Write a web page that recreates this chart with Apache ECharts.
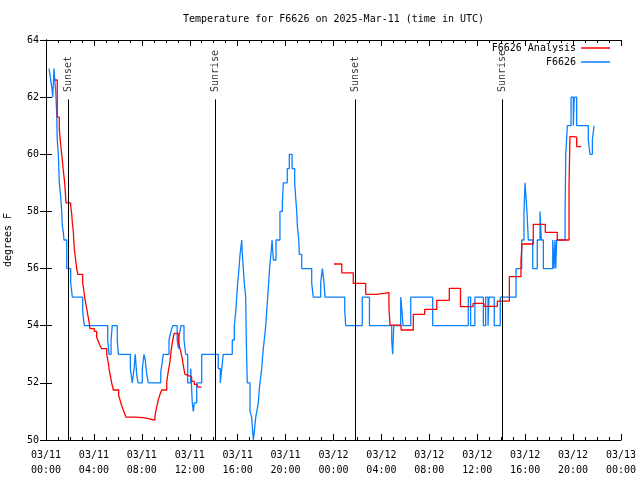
<!DOCTYPE html>
<html>
<head>
<meta charset="utf-8">
<script src="https://cdn.jsdelivr.net/npm/echarts@6/dist/echarts.min.js"></script>
<style>html,body{margin:0;padding:0;background:#fff}#c{width:640px;height:480px}</style>
</head>
<body>
<div id="c"></div>
<script>
// hours since 03/11 00:00 UTC
const xTickLabels = ['03/11\n00:00','03/11\n04:00','03/11\n08:00','03/11\n12:00','03/11\n16:00','03/11\n20:00','03/12\n00:00','03/12\n04:00','03/12\n08:00','03/12\n12:00','03/12\n16:00','03/12\n20:00','03/13\n00:00'];

const blueHours = [0.25,0.33,0.42,0.50,0.56,0.67,0.75,0.81,0.89,0.94,1.03,1.11,1.23,1.31,1.36,1.44,1.50,1.73,2.06,2.20,3.06,3.20,5.15,5.26,5.43,5.53,5.95,6.04,7.04,7.20,7.35,7.45,7.57,7.68,8.04,8.18,8.29,8.41,8.54,9.58,9.66,9.79,10.27,10.43,10.58,10.95,11.06,11.13,11.27,11.52,11.66,11.83,12.08,12.21,12.30,12.38,12.58,13.00,14.38,14.55,14.67,14.80,15.55,15.72,15.84,15.92,16.00,16.11,16.20,16.34,16.39,16.47,16.55,16.67,16.72,16.80,17.03,17.17,17.25,17.31,17.39,17.51,17.64,17.72,17.81,17.92,18.01,18.06,18.14,18.22,18.34,18.42,18.51,18.62,18.70,18.78,18.87,18.98,19.20,19.53,19.73,19.81,20.14,20.31,20.54,20.76,20.84,20.93,20.98,21.10,21.15,21.35,22.18,22.31,22.93,23.07,23.21,23.29,24.94,25.02,26.40,27.00,28.86,28.94,29.03,29.61,29.72,29.80,30.45,32.28,35.25,35.45,35.80,36.51,36.70,36.90,36.98,37.42,37.92,39.24,39.71,39.90,39.99,40.15,40.26,40.63,41.01,41.24,41.35,41.52,42.30,42.41,42.49,42.55,42.63,43.33,43.39,43.52,43.83,44.02,44.10,44.30,45.27,45.41,45.61,45.75,45.80];
const blueTemp = [63,62.8,62.5,62.3,62,63,62.5,62.2,61.5,60.5,60,59,58.5,58,57.5,57.3,57,56,55.5,55,54.5,54,53.5,53,53.5,54,53.5,53,52.5,52,52.5,53,52.3,52,52.5,53,52.8,52.3,52,52.4,52.6,53,53.5,53.8,54,53.5,53.2,53.7,54,53.5,53,52,52.5,51.3,51,51.3,52,53,52.5,52,52.5,53,53.5,54,54.5,55,55.5,56,56.5,57,56.5,56,55.5,55,53.5,52,51,50.8,50.3,50,50.3,50.8,51.1,51.3,51.8,52.2,52.5,52.8,53.2,53.5,54,54.5,55,55.7,56.2,56.5,57,56.3,57,58,58.3,59,59.5,60,59.5,59,58.5,58,57.5,57,56.5,56,55.5,55,55.5,56,55.5,55,54.5,54,55,54,53.5,53,54,55,54.5,54,55,54,55,54,55,54,55,54,55,54,55,56,57,58,59,58,57,56,57,58,57,56,57,56,57,56,57,58,60,61,62,61,62,61,60.5,60,60.5,61,61];

// null marks the gap in the analysis series
const redHours = [0.75,0.94,1.11,1.23,1.34,1.44,1.56,1.67,2.06,2.15,2.20,2.28,2.36,2.45,2.56,2.65,3.06,3.17,3.26,3.40,3.48,3.59,3.67,4.03,4.23,4.37,4.51,4.65,5.07,5.20,5.28,5.40,5.48,5.62,6.07,6.18,6.32,6.45,6.59,6.68,7.37,8.12,8.54,9.10,9.24,9.37,9.52,9.66,10.08,10.21,10.35,10.44,10.54,10.69,11.04,11.13,11.24,11.38,11.46,11.60,11.75,11.94,12.16,12.38,12.58,12.71,13.00,13.00,24.04,24.69,25.65,26.69,27.61,28.63,28.72,29.64,30.66,31.61,32.62,33.67,34.60,35.65,36.56,37.68,38.68,39.65,39.74,40.68,41.68,42.68,43.66,43.74,44.02,44.30,44.66];
const redTemp = [62.6,61.3,60.9,60.3,59.9,59.45,59.0,58.3,58.2,57.9,57.6,57.3,56.7,56.4,56.0,55.8,55.5,55.2,54.9,54.6,54.4,54.15,53.9,53.8,53.6,53.45,53.3,53.2,53.0,52.7,52.45,52.2,52.0,51.75,51.55,51.4,51.2,51.05,50.9,50.8,50.78,50.75,50.7,50.85,51.15,51.4,51.6,51.75,52.05,52.4,52.75,53.1,53.4,53.73,53.5,53.3,53.1,52.85,52.6,52.3,52.25,52.2,52.05,51.95,51.9,51.85,51.85,null,56.16,55.85,55.48,55.1,55.16,54.6,54.02,53.85,54.4,54.57,54.89,55.31,54.67,54.78,54.68,54.86,55.72,56.3,56.86,57.55,57.27,57.0,58.87,60.62,60.6,60.27,60.27];

const sunHours = [1.86, 14.11, 25.82, 38.09];
const sunLabels = ['Sunset', 'Sunrise', 'Sunset', 'Sunrise'];

const FONT = 'DejaVu Sans Mono';
const blueData = blueHours.map((h, i) => [h, blueTemp[i]]);
// split the analysis series at null gaps so no segment bridges the gap
const redSegments = [[]];
redHours.forEach((h, i) => {
  if (redTemp[i] == null) { redSegments.push([]); }
  else { redSegments[redSegments.length - 1].push([h, redTemp[i]]); }
});

const chart = echarts.init(document.getElementById('c'), null, {renderer: 'canvas'});
const axisCommon = {
  axisLine: {show: true, lineStyle: {color: '#000', width: 1}},
  splitLine: {show: false}
};
const redSeries = redSegments.map(seg => ({
  name: 'F6626 Analysis', type: 'line', step: 'end', showSymbol: false,
  data: seg, color: '#ff0000', lineStyle: {color: '#ff0000', width: 1.3}, z: 3
}));
chart.setOption({
  animation: false,
  backgroundColor: '#fff',
  textStyle: {fontFamily: FONT},
  title: {
    text: 'Temperature for F6626 on 2025-Mar-11 (time in UTC)',
    left: 183, top: 14, padding: 0,
    textStyle: {fontFamily: FONT, fontSize: 10, fontWeight: 'normal', color: '#000'}
  },
  legend: [
    {data: ['F6626 Analysis'], right: 30, top: 43, padding: 0, align: 'right', orient: 'vertical',
     icon: 'rect', itemWidth: 29, itemHeight: 1.5, itemGap: 0,
     textStyle: {fontFamily: FONT, fontSize: 10, color: '#000'}},
    {data: ['F6626'], right: 30, top: 57, padding: 0, align: 'right', orient: 'vertical',
     icon: 'rect', itemWidth: 29, itemHeight: 1.5, itemGap: 0,
     textStyle: {fontFamily: FONT, fontSize: 10, color: '#000'}}
  ],
  grid: {left: 46, right: 19, top: 40, bottom: 40, containLabel: false, outerBoundsMode: 'none'},
  xAxis: [
    Object.assign({}, axisCommon, {
      type: 'value', min: 0, max: 48, interval: 4, position: 'bottom',
      axisTick: {show: true, inside: true, length: 6, lineStyle: {color: '#000'}},
      minorTick: {show: true, splitNumber: 4, length: 3, lineStyle: {color: '#000'}},
      axisLabel: {margin: 8, fontFamily: FONT, fontSize: 10, color: '#000', lineHeight: 15,
        formatter: v => xTickLabels[Math.round(v / 4)]}
    }),
    Object.assign({}, axisCommon, {
      type: 'value', min: 0, max: 48, interval: 4, position: 'top',
      axisTick: {show: true, inside: true, length: 6, lineStyle: {color: '#000'}},
      minorTick: {show: true, splitNumber: 4, length: 3, lineStyle: {color: '#000'}},
      axisLabel: {show: false}
    })
  ],
  yAxis: [
    Object.assign({}, axisCommon, {
      type: 'value', min: 50, max: 64, interval: 2, position: 'left',
      name: 'degrees F', nameLocation: 'middle', nameGap: 33, nameRotate: 90,
      nameTextStyle: {fontFamily: FONT, fontSize: 10, color: '#000'},
      axisTick: {show: true, inside: true, length: 6, lineStyle: {color: '#000'}},
      axisLabel: {margin: 7, fontFamily: FONT, fontSize: 10, color: '#000'}
    }),
    Object.assign({}, axisCommon, {
      type: 'value', min: 50, max: 64, interval: 2, position: 'right',
      axisTick: {show: true, inside: true, length: 6, lineStyle: {color: '#000'}},
      axisLabel: {show: false}
    })
  ],
  series: [
    {
      name: 'sun', type: 'scatter', symbolSize: 0, silent: true,
      data: sunHours.map((h, i) => [h, 62.18, sunLabels[i]]),
      label: {show: true, position: 'inside', rotate: 90, align: 'left', verticalAlign: 'middle',
        formatter: p => p.data[2], fontFamily: FONT, fontSize: 10, color: '#000'},
      markLine: {
        silent: true, symbol: 'none', animation: false,
        label: {show: false},
        lineStyle: {color: '#000', width: 1, type: 'solid'},
        data: sunHours.map(h => [{coord: [h, 50]}, {coord: [h, 61.92]}])
      }
    }
  ].concat(redSeries, [
    {
      name: 'F6626', type: 'line', step: 'end', showSymbol: false,
      data: blueData, color: '#0a80ff', lineStyle: {color: '#0a80ff', width: 1.3}, z: 2
    }
  ])
});
</script>
</body>
</html>
